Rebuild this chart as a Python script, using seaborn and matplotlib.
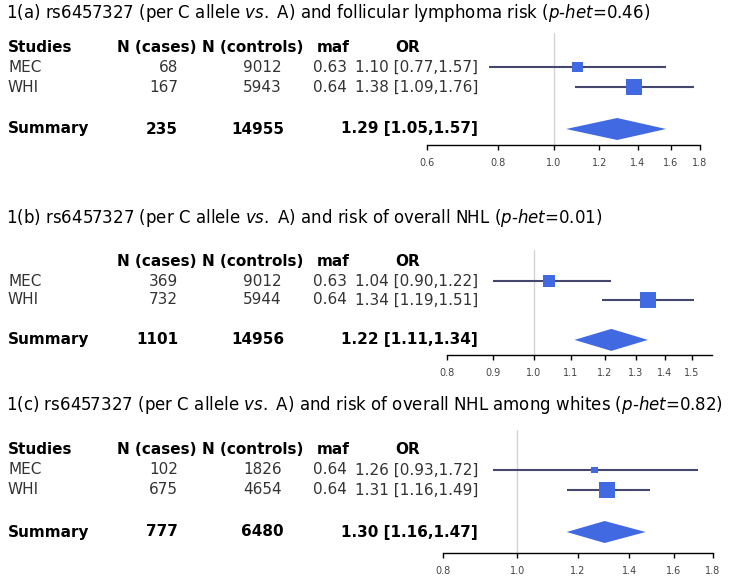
import numpy as np
import seaborn as sns
import matplotlib.pyplot as plt
from matplotlib import transforms

sns.set_theme(style="white")
plt.rcParams["font.family"] = ["DejaVu Sans"]
plt.rcParams["mathtext.fontset"] = "dejavusans"

# ---- data ----
studies = ["MEC", "WHI"]

cases_a = [68, 167]
controls_a = [9012, 5943]
maf_a = [0.63, 0.64]
or_a = [1.10, 1.38]
lo_a = [0.77, 1.09]
hi_a = [1.57, 1.76]
summary_a = [235, 14955, 1.29, 1.05, 1.57]
ticks_a = [0.6, 0.8, 1.0, 1.2, 1.4, 1.6, 1.8]

cases_b = [369, 732]
controls_b = [9012, 5944]
maf_b = [0.63, 0.64]
or_b = [1.04, 1.34]
lo_b = [0.90, 1.19]
hi_b = [1.22, 1.51]
summary_b = [1101, 14956, 1.22, 1.11, 1.34]
ticks_b = [0.8, 0.9, 1.0, 1.1, 1.2, 1.3, 1.4, 1.5]

cases_c = [102, 675]
controls_c = [1826, 4654]
maf_c = [0.64, 0.64]
or_c = [1.26, 1.31]
lo_c = [0.93, 1.16]
hi_c = [1.72, 1.49]
summary_c = [777, 6480, 1.30, 1.16, 1.47]
ticks_c = [0.8, 1.0, 1.2, 1.4, 1.6, 1.8]

titles = [
    r"1(a) rs6457327 (per C allele $\mathit{vs.}$ A) and follicular lymphoma risk ($\mathit{p}$-$\mathit{het}$=0.46)",
    r"1(b) rs6457327 (per C allele $\mathit{vs.}$ A) and risk of overall NHL ($\mathit{p}$-$\mathit{het}$=0.01)",
    r"1(c) rs6457327 (per C allele $\mathit{vs.}$ A) and risk of overall NHL among whites ($\mathit{p}$-$\mathit{het}$=0.82)",
]

W, H = 735, 588
BOX = "#4169E1"
LINE = "#45476f"
TXT = "#333333"

# layout of each panel in pixels
layouts = [
    dict(title=13, top=33, header=47, row=20.0, axis=145, xpx=(427, 700), xlim=(0.6, 1.8), studies_hdr=True),
    dict(title=218, top=250, header=262, row=19.0, axis=355, xpx=(447, 712), xlim=(0.8, 1.58), studies_hdr=False),
    dict(title=405, top=430, header=450, row=20.0, axis=553, xpx=(443, 713), xlim=(0.8, 1.8), studies_hdr=True),
]
panels = [
    (cases_a, controls_a, maf_a, or_a, lo_a, hi_a, summary_a, ticks_a),
    (cases_b, controls_b, maf_b, or_b, lo_b, hi_b, summary_b, ticks_b),
    (cases_c, controls_c, maf_c, or_c, lo_c, hi_c, summary_c, ticks_c),
]

fig = plt.figure(figsize=(W / 100, H / 100), dpi=100)

for title, lay, (cases, controls, maf, est, lo, hi, summ, ticks) in zip(titles, layouts, panels):
    fig.text(6 / W, 1 - lay["title"] / H, title, fontsize=12, color="black", va="center", ha="left")

    x0, x1 = lay["xpx"]
    ax = fig.add_axes([x0 / W, 1 - lay["axis"] / H, (x1 - x0) / W, (lay["axis"] - lay["top"]) / H])
    ax.set_xscale("log")
    ax.set_xlim(*lay["xlim"])
    ax.set_ylim(lay["axis"], lay["top"])

    rows = [lay["header"] + i * lay["row"] for i in (1, 2)]
    sum_y = lay["header"] + 4.1 * lay["row"]

    ax.axvline(1.0, color="#d4d4d4", lw=1, zorder=0)

    # CI lines and weighted boxes (area ~ inverse variance)
    ax.hlines(rows, lo, hi, color=LINE, lw=1.5, zorder=1)
    se = np.log(np.array(hi) / np.array(lo)) / 3.92
    w = 1 / se ** 2
    side = 16 * np.sqrt(w / w.max()) * 0.72
    sns.scatterplot(x=est, y=rows, size=side ** 2, sizes=(float((side ** 2).min()), float((side ** 2).max())),
                    marker="s", color=BOX, edgecolor="none", legend=False, ax=ax, zorder=2)

    # summary diamond
    s_or, s_lo, s_hi = summ[2], summ[3], summ[4]
    hh = 11
    ax.fill([s_lo, s_or, s_hi, s_or], [sum_y, sum_y - hh, sum_y, sum_y + hh], color=BOX, lw=0, zorder=2)

    for side_name in ["top", "right", "left"]:
        ax.spines[side_name].set_visible(False)
    ax.spines["bottom"].set_color("black")
    ax.spines["bottom"].set_linewidth(1)
    ax.set_yticks([])
    ax.set_xticks(ticks)
    ax.set_xticks([], minor=True)
    ax.set_xticklabels([f"{t:.1f}" for t in ticks])
    ax.tick_params(axis="x", which="major", bottom=True, direction="out", length=3.5, width=1,
                   color="black", labelsize=7, labelcolor="#444444", pad=6)
    ax.set_xlabel("")
    ax.set_ylabel("")
    ax.patch.set_alpha(0)

    # table text: x in figure pixels, y in the panel's row coordinates
    tr = transforms.blended_transform_factory(fig.transFigure, ax.transData)
    fx = lambda p: p / W
    hdr_y = lay["header"]
    bold = dict(fontsize=11, fontweight="bold", color="black", va="center", transform=tr, clip_on=False)
    norm = dict(fontsize=11, color=TXT, va="center", transform=tr, clip_on=False)
    if lay["studies_hdr"]:
        fig.text(fx(8), hdr_y, "Studies", ha="left", **bold)
    fig.text(fx(157), hdr_y, "N (cases)", ha="center", **bold)
    fig.text(fx(253), hdr_y, "N (controls)", ha="center", **bold)
    fig.text(fx(333), hdr_y, "maf", ha="center", **bold)
    fig.text(fx(408), hdr_y, "OR", ha="center", **bold)

    for y, st, nc, nn, m, e, l, h in zip(rows, studies, cases, controls, maf, est, lo, hi):
        fig.text(fx(8), y, st, ha="left", **norm)
        fig.text(fx(178), y, f"{nc}", ha="right", **norm)
        fig.text(fx(282), y, f"{nn}", ha="right", **norm)
        fig.text(fx(347), y, f"{m:.2f}", ha="right", **norm)
        fig.text(fx(478), y, f"{e:.2f} [{l:.2f},{h:.2f}]", ha="right", **norm)

    fig.text(fx(8), sum_y, "Summary", ha="left", **bold)
    fig.text(fx(178), sum_y, f"{summ[0]}", ha="right", **bold)
    fig.text(fx(284), sum_y, f"{summ[1]}", ha="right", **bold)
    fig.text(fx(478), sum_y, f"{s_or:.2f} [{s_lo:.2f},{s_hi:.2f}]", ha="right", **bold)

fig.savefig("out.png", dpi=100)
